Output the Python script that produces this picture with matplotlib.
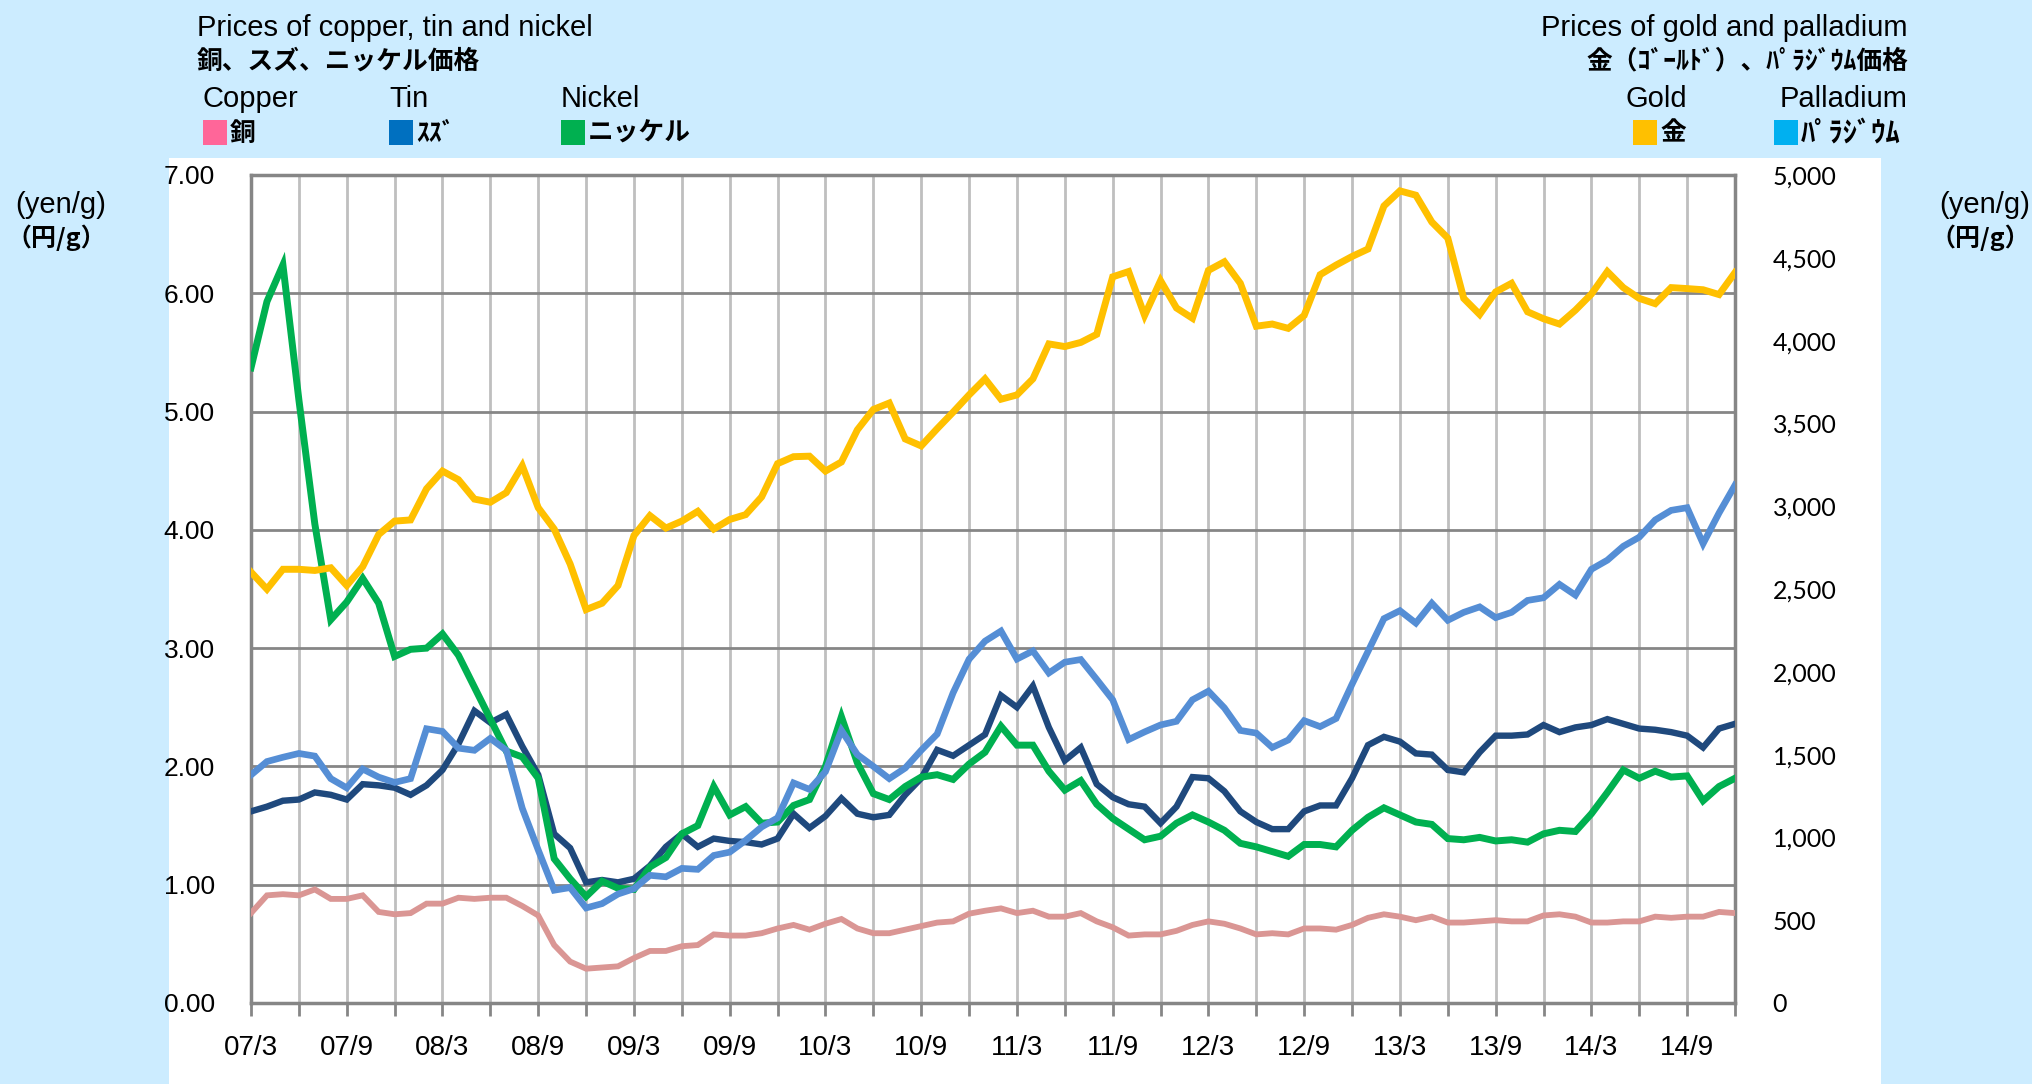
import matplotlib
matplotlib.use("Agg")
import matplotlib.pyplot as plt
from matplotlib import font_manager
from matplotlib.patches import Rectangle
import numpy as np

# ---------------- data ----------------
tick_labels = ["07/3", "07/9", "08/3", "08/9", "09/3", "09/9", "10/3", "10/9",
               "11/3", "11/9", "12/3", "12/9", "13/3", "13/9", "14/3", "14/9"]

copper = [0.76, 0.91, 0.92, 0.91, 0.96, 0.88, 0.88, 0.91, 0.77, 0.75, 0.76, 0.84,
          0.84, 0.89, 0.88, 0.89, 0.89, 0.82, 0.74, 0.49, 0.35, 0.29, 0.30, 0.31,
          0.38, 0.44, 0.44, 0.48, 0.49, 0.58, 0.57, 0.57, 0.59, 0.63, 0.66, 0.62,
          0.67, 0.71, 0.63, 0.59, 0.59, 0.62, 0.65, 0.68, 0.69, 0.755, 0.78, 0.80,
          0.76, 0.78, 0.73, 0.73, 0.76, 0.69, 0.64, 0.57, 0.58, 0.58, 0.61, 0.66,
          0.69, 0.67, 0.63, 0.58, 0.59, 0.58, 0.63, 0.63, 0.62, 0.66, 0.72, 0.75,
          0.73, 0.70, 0.73, 0.68, 0.68, 0.69, 0.70, 0.69, 0.69, 0.74, 0.75, 0.73,
          0.68, 0.68, 0.69, 0.69, 0.73, 0.72, 0.73, 0.73, 0.77, 0.76]

tin = [1.62, 1.66, 1.71, 1.72, 1.78, 1.76, 1.72, 1.85, 1.84, 1.82, 1.76, 1.84,
       1.97, 2.19, 2.47, 2.37, 2.44, 2.17, 1.93, 1.43, 1.31, 1.02, 1.04, 1.02,
       1.05, 1.16, 1.32, 1.43, 1.32, 1.39, 1.37, 1.36, 1.34, 1.39, 1.60, 1.48,
       1.58, 1.73, 1.60, 1.57, 1.59, 1.76, 1.90, 2.14, 2.09, 2.18, 2.27, 2.60,
       2.50, 2.68, 2.33, 2.05, 2.16, 1.85, 1.74, 1.68, 1.66, 1.52, 1.66, 1.91,
       1.90, 1.79, 1.62, 1.53, 1.47, 1.47, 1.62, 1.67, 1.67, 1.90, 2.18, 2.25,
       2.21, 2.11, 2.10, 1.97, 1.95, 2.12, 2.26, 2.26, 2.27, 2.35, 2.29, 2.33,
       2.35, 2.40, 2.36, 2.32, 2.31, 2.29, 2.26, 2.16, 2.32, 2.36]

nickel = [5.37, 5.93, 6.24, 5.10, 4.05, 3.24, 3.39, 3.59, 3.38, 2.93, 2.99, 3.00,
          3.12, 2.94, 2.67, 2.40, 2.13, 2.08, 1.90, 1.22, 1.05, 0.90, 1.03, 0.97,
          0.96, 1.15, 1.23, 1.43, 1.50, 1.83, 1.59, 1.66, 1.52, 1.53, 1.67, 1.72,
          2.00, 2.42, 2.03, 1.77, 1.72, 1.83, 1.91, 1.93, 1.89, 2.02, 2.12, 2.34,
          2.18, 2.18, 1.96, 1.80, 1.88, 1.68, 1.56, 1.47, 1.38, 1.41, 1.52, 1.59,
          1.53, 1.46, 1.35, 1.32, 1.28, 1.24, 1.34, 1.34, 1.32, 1.46, 1.57, 1.65,
          1.59, 1.53, 1.51, 1.39, 1.38, 1.40, 1.37, 1.38, 1.36, 1.43, 1.46, 1.45,
          1.60, 1.78, 1.97, 1.90, 1.96, 1.91, 1.92, 1.71, 1.83, 1.90]

gold = [2602, 2499, 2619, 2619, 2612, 2628, 2521, 2635, 2829, 2910, 2917, 3105,
        3212, 3160, 3043, 3024, 3082, 3244, 2991, 2862, 2651, 2376, 2414, 2521,
        2823, 2943, 2868, 2910, 2969, 2862, 2920, 2949, 3056, 3257, 3299, 3302,
        3212, 3267, 3461, 3584, 3623, 3406, 3364, 3468, 3568, 3672, 3769, 3646,
        3672, 3769, 3980, 3964, 3989, 4038, 4385, 4417, 4152, 4362, 4197, 4135,
        4424, 4476, 4346, 4087, 4100, 4074, 4152, 4398, 4456, 4508, 4553, 4813,
        4904, 4878, 4716, 4619, 4255, 4158, 4294, 4346, 4174, 4132, 4100, 4184,
        4281, 4417, 4320, 4255, 4223, 4320, 4314, 4307, 4278, 4411]

palladium = [1377, 1458, 1484, 1507, 1491, 1355, 1299, 1413, 1364, 1332, 1355, 1656,
             1640, 1539, 1526, 1598, 1526, 1176, 924, 681, 697, 574, 600, 658,
             690, 771, 762, 813, 807, 891, 911, 982, 1063, 1118, 1329, 1290,
             1397, 1646, 1500, 1429, 1355, 1419, 1526, 1624, 1873, 2076, 2185, 2246,
             2077, 2126, 1993, 2058, 2074, 1954, 1831, 1591, 1637, 1679, 1701, 1831,
             1883, 1782, 1646, 1630, 1543, 1588, 1705, 1669, 1718, 1925, 2123, 2321,
             2369, 2294, 2414, 2311, 2359, 2392, 2327, 2359, 2431, 2447, 2528, 2463,
             2619, 2674, 2758, 2813, 2917, 2975, 2991, 2774, 2959, 3127]

left_ticks = [0, 1, 2, 3, 4, 5, 6, 7]
right_ticks = [0, 500, 1000, 1500, 2000, 2500, 3000, 3500, 4000, 4500, 5000]

# ---------------- fonts ----------------
avail = {f.name for f in font_manager.fontManager.ttflist}
def pick(*names):
    for n in names:
        if n in avail:
            return n
    return "DejaVu Sans"

NARROW = pick("Liberation Sans Narrow", "Liberation Sans", "DejaVu Sans")
NORMAL = pick("Lato", "Open Sans", "Liberation Sans")
CJK = pick("Noto Sans CJK JP", "Noto Sans CJK SC")

# ---------------- figure ----------------
W, H = 2033, 1084
fig = plt.figure(figsize=(W / 100, H / 100), dpi=100)
fig.patch.set_facecolor("#CCECFF")

def fx(px):
    return px / W
def fy(py):
    return 1 - py / H

# white chart panel
fig.add_artist(Rectangle((fx(169), 0), fx(1881) - fx(169), fy(158), transform=fig.transFigure,
                         facecolor="white", edgecolor="none", zorder=0))

ax = fig.add_axes([fx(251), fy(1003), fx(1735) - fx(251), fy(175) - fy(1003)])
ax.set_facecolor("white")
ax.set_zorder(1)

n = len(copper)
x = np.arange(n)

c_copper = "#DA9694"
c_tin = "#1F497D"
c_nickel = "#00B050"
c_gold = "#FFC000"
c_pall = "#558ED5"

ax.plot(x, copper, color=c_copper, lw=4.2, solid_joinstyle="miter", zorder=3)
ax.plot(x, tin, color=c_tin, lw=4.6, solid_joinstyle="miter", zorder=4)
ax.plot(x, nickel, color=c_nickel, lw=5.0, solid_joinstyle="miter", zorder=5)

ax.set_xlim(0, n - 1)
ax.set_ylim(0, 7)
ax.set_yticks(left_ticks)
ax.set_yticklabels([f"{v:.2f}" for v in left_ticks])
ax.tick_params(axis="y", length=0, pad=26, labelsize=19)
for lab in ax.get_yticklabels():
    lab.set_fontfamily(NARROW)

xt = np.arange(0, n, 3)
ax.set_xticks(xt)
lab_iter = iter(tick_labels)
ax.set_xticklabels([next(lab_iter) if (i % 2 == 0) else "" for i in range(len(xt))])
ax.tick_params(axis="x", length=9, width=2, color="#868686", direction="out", pad=14, labelsize=20)
for lab in ax.get_xticklabels():
    lab.set_fontfamily(NARROW)

ax.grid(axis="x", color="#BFBFBF", lw=2, zorder=1)
ax.grid(axis="y", color="#868686", lw=2, zorder=1)
ax.set_axisbelow(True)
for s in ax.spines.values():
    s.set_color("#868686")
    s.set_linewidth(2.5)

ax2 = ax.twinx()
ax2.plot(x, palladium, color=c_pall, lw=4.8, solid_joinstyle="miter", zorder=3)
ax2.plot(x, gold, color=c_gold, lw=5.0, solid_joinstyle="miter", zorder=4)
ax2.set_ylim(0, 5000)
ax2.set_yticks(right_ticks)
ax2.set_yticklabels([f"{v:,}" for v in right_ticks])
ax2.tick_params(axis="y", length=0, pad=27, labelsize=18)
for lab in ax2.get_yticklabels():
    lab.set_fontfamily(NORMAL)
for s in ax2.spines.values():
    s.set_visible(False)

# ---------------- titles & legends ----------------
ENG = dict(fontfamily=NARROW, fontsize=21, color="black", va="center")
JP = dict(fontfamily=[CJK, "DejaVu Sans"], fontsize=18.5, fontweight="bold", color="black", va="center")

fig.text(fx(197), fy(28), "Prices of copper, tin and nickel", ha="left", **ENG)
fig.text(fx(197), fy(61), "銅、スズ、ニッケル価格", ha="left", **JP)
fig.text(fx(1908), fy(28), "Prices of gold and palladium", ha="right", **ENG)
fig.text(fx(1908), fy(61), "金（ｺﾞｰﾙﾄﾞ）、ﾊﾟﾗｼﾞｳﾑ価格", ha="right", **JP)

def swatch(x0, color):
    fig.add_artist(Rectangle((fx(x0), fy(145)), 24 / W, 25 / H, transform=fig.transFigure,
                             facecolor=color, edgecolor="none"))

legend_left = [("Copper", "銅", "#FF6699", 203), ("Tin", "ｽｽﾞ", "#0070C0", 389),
               ("Nickel", "ニッケル", "#00B050", 561)]
for eng, jp, col, x0 in legend_left:
    fig.text(fx(x0), fy(99), eng, ha="left", **ENG)
    swatch(x0, col)
    fig.text(fx(x0 + 27), fy(133), jp, ha="left", **JP)

fig.text(fx(1687), fy(99), "Gold", ha="right", **ENG)
swatch(1633, "#FFC000")
fig.text(fx(1660), fy(133), "金", ha="left", **JP)
fig.text(fx(1908), fy(99), "Palladium", ha="right", **ENG)
swatch(1774, "#00B0F0")
JPH = dict(JP, fontsize=20.5)
fig.text(fx(1801), fy(133), "ﾊﾟﾗｼﾞｳﾑ", ha="left", **JPH)

# unit labels
UN = dict(fontfamily=[NARROW, CJK], fontsize=21, color="black", va="center", ha="right")
UJ = dict(fontfamily=[CJK, "DejaVu Sans"], fontsize=18, fontweight="bold", color="black", va="center", ha="right")
fig.text(fx(106), fy(205), "(yen/g)", **UN)
fig.text(fx(106), fy(238), "（円/g）", **UJ)
fig.text(fx(2030), fy(205), "(yen/g)", **UN)
fig.text(fx(2030), fy(238), "（円/g）", **UJ)

fig.savefig("out.png", dpi=100, facecolor=fig.get_facecolor())
